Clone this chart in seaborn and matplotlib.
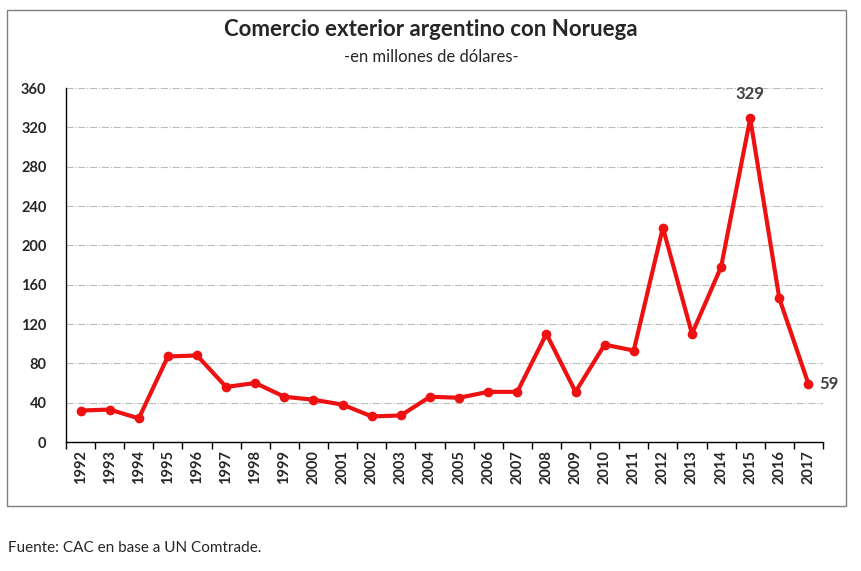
import pandas as pd
import numpy as np
import matplotlib.pyplot as plt
import seaborn as sns
from matplotlib.patches import Rectangle

# Datos (millones de USD)
anios = list(range(1992, 2018))
valores = [32, 33, 24, 87, 88, 56, 60, 46, 43, 38, 26, 27, 46,
           45, 51, 51, 110, 51, 99, 93, 218, 110, 178, 329, 146, 59]
etiquetas_y = [0, 40, 80, 120, 160, 200, 240, 280, 320, 360]

df = pd.DataFrame({'anio': anios, 'valor': valores})

sns.set_style('white')
plt.rcParams['font.family'] = ['Lato', 'DejaVu Sans']

fig = plt.figure(figsize=(8.62, 5.71), dpi=100)
ax = fig.add_axes([66/862, 1-442/571, (823-66)/862, (442-88)/571])

sns.lineplot(data=df, x='anio', y='valor', ax=ax, color='#EE1111',
             linewidth=3.0, marker='o', markersize=7, markeredgewidth=0)

ax.set_xlim(anios[0]-0.5, anios[-1]+0.5)
ax.set_ylim(0, 360)
ax.set_yticks(etiquetas_y)
ax.set_yticklabels([str(v) for v in etiquetas_y], fontsize=10.5, fontweight='bold')
ax.set_xticks(anios)
ax.set_xticklabels([str(a) for a in anios], rotation=90, fontsize=10.5,
                   fontweight='bold')
ax.set_xticks(np.arange(anios[0]-0.5, anios[-1]+1, 1), minor=True)
ax.tick_params(axis='x', which='major', length=0, pad=6)
ax.tick_params(axis='x', which='minor', length=5, width=1, color='black',
               direction='out', bottom=True)
ax.tick_params(axis='y', length=0, pad=14)
ax.set_xlabel('')
ax.set_ylabel('')

ax.yaxis.grid(True, color='#BBBBBB', linestyle='-.', linewidth=0.8)
ax.set_axisbelow(True)
for s in ['top', 'right']:
    ax.spines[s].set_visible(False)
for s in ['left', 'bottom']:
    ax.spines[s].set_color('black')
    ax.spines[s].set_linewidth(1)

# etiquetas de datos
ax.annotate(str(valores[anios.index(2015)]), (2015, valores[anios.index(2015)]),
            xytext=(0, 12), textcoords='offset points', ha='center', va='bottom',
            fontsize=12, fontweight='bold', color='#404040')
ax.annotate(str(valores[-1]), (2017, valores[-1]), xytext=(8, 0),
            textcoords='offset points', ha='left', va='center',
            fontsize=12, fontweight='bold', color='#404040')

fig.text(0.5, 1-30/571, 'Comercio exterior argentino con Noruega', ha='center',
         va='center', fontsize=16, fontweight='bold')
fig.text(0.5, 1-57/571, '-en millones de dólares-', ha='center', va='center',
         fontsize=12)
fig.text(8/862, 1-548/571, 'Fuente: CAC en base a UN Comtrade.', ha='left',
         va='center', fontsize=11)

fig.patches.append(Rectangle((7/862, 1-506/571), (846-7)/862, (506-10)/571,
                             transform=fig.transFigure, fill=False,
                             edgecolor='#7F7F7F', linewidth=1))

fig.savefig('out.png', dpi=100)
